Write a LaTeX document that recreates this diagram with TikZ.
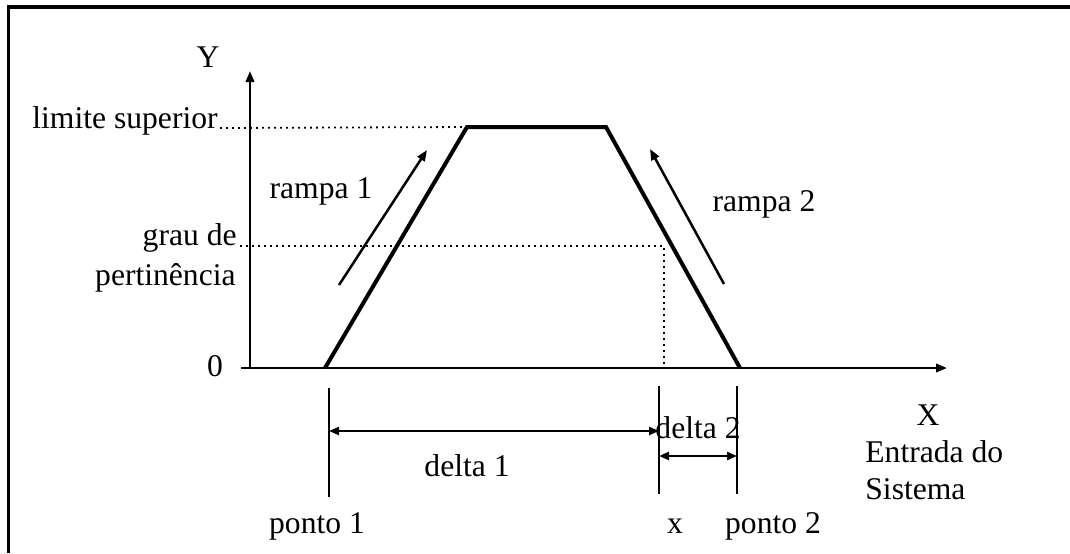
\documentclass[tikz,border=0pt]{standalone}
\usepackage{fontspec}
\setmainfont{Liberation Serif}
\usetikzlibrary{arrows.meta,positioning,calc}
\tikzset{
  frame/.style={line width=1.6pt},
  axis/.style={line width=1.2pt, -{Triangle[length=5.5pt,width=4.2pt]}},
  ramp/.style={line width=2pt, line join=miter},
  guide/.style={line width=0.9pt, dash pattern=on 0.9pt off 2.1pt},
  tickln/.style={line width=1.4pt},
  arr/.style={line width=1.25pt, -{Triangle[length=5.5pt,width=4.2pt]}},
  darr/.style={line width=1.2pt, {Triangle[length=5pt,width=4pt]}-{Triangle[length=5pt,width=4pt]}},
  lbl/.style={font=\fontsize{15.8}{19}\selectfont, inner sep=0pt},
}

\begin{document}
\begin{tikzpicture}[x=0.5pt,y=-0.5pt]
\useasboundingbox (0,0) rectangle (1070,553);
% frame, only top and left edges
\coordinate (fbl) at (8.5,553);
\coordinate (ftl) at (8.5,7);
\coordinate (ftr) at (1070,7);
\draw[frame] (fbl) -- (ftl) -- (ftr);
% axes
\coordinate (o) at (250,368);
\coordinate (ytop) at (250,71);
\coordinate (xl) at (241,368);
\coordinate (xtip) at (947,368);
\draw[axis] (o) -- (ytop);
\draw[axis] (xl) -- (xtip);
% trapezoid
\coordinate (p1) at (325,368);
\coordinate (tl) at (467,127);
\coordinate (tr) at (606,127);
\coordinate (p2) at (740,368);
\draw[ramp] (p1) -- (tl) -- (tr) -- (p2);
% axis labels
\node[lbl, anchor=base] (ylab) at (208,67) {Y};
\node[lbl, anchor=base east] (lim) at (218,128) {limite superior};
\node[lbl, anchor=base east] (grau) at (237,245) {grau de};
\node[lbl, anchor=base east] (pert) at (236,285) {pertinência};
\node[lbl, anchor=base] (zero) at (215,376) {0};
% guides
\coordinate (gl) at (240,246);
\coordinate (gx) at (664,246);
\coordinate (gx0) at (664,368);
\draw[guide] ($(lim.base east)+(2,0)$) -- (tl);
\draw[guide] (gl) -- (gx) -- (gx0);
% ramps
\coordinate (r1a) at (339,285);
\coordinate (r1b) at (427,150);
\coordinate (r2a) at (724,284);
\coordinate (r2b) at (650,149);
\draw[arr] (r1a) -- (r1b);
\draw[arr] (r2a) -- (r2b);
\node[lbl, anchor=base] (ramp1) at (321,198) {rampa 1};
\node[lbl, anchor=base] (ramp2) at (764,211) {rampa 2};
% measures below the axis
\coordinate (t1a) at (329,388);
\coordinate (t1b) at (329,497);
\coordinate (txa) at (659,386);
\coordinate (txb) at (659,494);
\coordinate (t2a) at (737,386);
\coordinate (t2b) at (737,494);
\draw[tickln] (t1a) -- (t1b);
\draw[tickln] (txa) -- (txb);
\draw[tickln] (t2a) -- (t2b);
\coordinate (d1l) at (329,431);
\coordinate (d1r) at (659,431);
\coordinate (d2l) at (659,456);
\coordinate (d2r) at (737,456);
\draw[darr] (d1l) -- (d1r);
\draw[darr] (d2l) -- (d2r);
\node[lbl, anchor=base] (delta1) at (467,476) {delta 1};
\node[lbl, anchor=base] (delta2) at (698,438) {delta 2};
\node[lbl, anchor=base] (xlab) at (928,425) {X};
\node[lbl, anchor=base west] (entrada) at (865,462) {Entrada do};
\node[lbl, anchor=base west] (sist) at (865,499) {Sistema};
\node[lbl, anchor=base] (ponto1) at (317,533) {ponto 1};
\node[lbl, anchor=base] (xval) at (675,533) {x};
\node[lbl, anchor=base] (ponto2) at (773,533) {ponto 2};
\end{tikzpicture}
\end{document}
